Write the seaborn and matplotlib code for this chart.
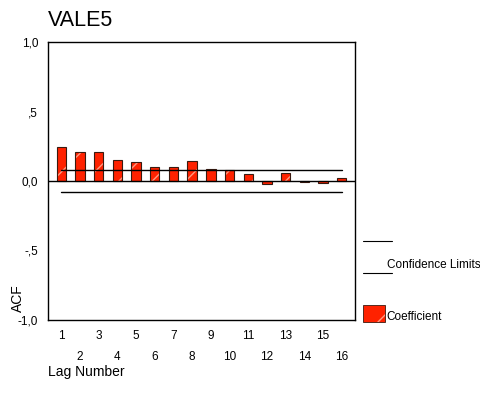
import matplotlib
matplotlib.use("Agg")
import matplotlib.pyplot as plt
import seaborn as sns
import numpy as np
from matplotlib.lines import Line2D
from matplotlib.patches import Rectangle

sns.set_style("white")
plt.rcParams['font.family'] = ['Liberation Sans', 'DejaVu Sans']
plt.rcParams['text.color'] = 'black'
plt.rcParams['xtick.color'] = 'black'
plt.rcParams['ytick.color'] = 'black'
plt.rcParams['axes.labelcolor'] = 'black'

lags = list(range(1, 17))
acf = [0.245, 0.206, 0.206, 0.149, 0.134, 0.103, 0.103, 0.142,
       0.086, 0.077, 0.048, -0.024, 0.055, -0.010, -0.017, 0.024]
conf_upper = 0.077
conf_lower = -0.079
ytick_vals = [-1.0, -0.5, 0.0, 0.5, 1.0]
ytick_labels = ["-1,0", "-,5", "0,0", ",5", "1,0"]
title = "VALE5"

fig = plt.figure(figsize=(4.81, 4.01), dpi=100)
ax = fig.add_axes([48/481, 1-320/401, (355-48)/481, (320-42)/401])

sns.barplot(x=lags, y=acf, native_scale=True, width=0.5, color="#ff2200",
            ax=ax, saturation=1)
for p in ax.patches:
    p.set_edgecolor("#3a1a10")
    p.set_linewidth(0.8)
    p.set_hatch("/")
    p._hatch_color = (1.0, 0.6, 0.5, 1.0)

ax.plot([lags[0], lags[-1]], [conf_upper, conf_upper], color="black", lw=1)
ax.plot([lags[0], lags[-1]], [conf_lower, conf_lower], color="black", lw=1)
ax.axhline(0, color="black", lw=1)

ax.set_xlim(0.29, 16.71)
ax.set_ylim(-1.0, 1.0)
ax.set_yticks(ytick_vals)
ax.set_yticklabels(ytick_labels, fontsize=8.5, color="black")
ax.set_xticks(lags)
ax.set_xticklabels([])
for lag in lags:
    yoff = -0.058 if lag % 2 == 1 else -0.133
    ax.text(lag, yoff, str(lag), transform=ax.get_xaxis_transform(),
            ha="center", va="center", fontsize=8.5, color="black")
ax.tick_params(axis="both", direction="out", length=3, width=0.8, color="black")
ax.tick_params(axis="y", pad=4)
for s in ax.spines.values():
    s.set_color("black")
    s.set_linewidth(1)
ax.set_xlabel("")
ax.set_ylabel("")

fig.text(48/481, 1-20/401, title, fontsize=15.5, ha="left", va="center", color="black")
fig.text(18/481, 1-298/401, "ACF", fontsize=10, rotation=90, ha="center", va="center", color="black")
fig.text(48/481, 1-372/401, "Lag Number", fontsize=10, ha="left", va="center", color="black")

# legend
fig.add_artist(Line2D([363/481, 392/481], [1-241/401, 1-241/401], color="black", lw=0.8))
fig.add_artist(Line2D([363/481, 392/481], [1-273/401, 1-273/401], color="black", lw=0.8))
fig.text(387/481, 1-265/401, "Confidence Limits", fontsize=8.5, ha="left", va="center", color="black")
r = Rectangle((363/481, 1-322/401), 22/481, 17/401, transform=fig.transFigure,
              facecolor="#ff2200", edgecolor="#3a1a10", lw=0.6, hatch="/")
r._hatch_color = (1.0, 0.6, 0.5, 1.0)
fig.add_artist(r)
fig.text(386/481, 1-317/401, "Coefficient", fontsize=8.5, ha="left", va="center", color="black")

fig.savefig("out.png", dpi=100)
